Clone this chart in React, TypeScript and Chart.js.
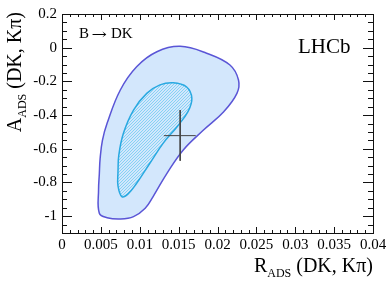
import React, { useEffect, useRef } from 'react';
import { Chart, registerables } from 'chart.js';

Chart.register(...registerables);

// 95% (outer) contour: R_ADS and A_ADS values (closed loop)
const outerR = [0.0048, 0.0049, 0.0052, 0.0058, 0.0075, 0.0096, 0.0122, 0.0152, 0.0186, 0.0216, 0.0227, 0.0225, 0.0208, 0.0182, 0.0156, 0.0135, 0.0117, 0.0107, 0.0092, 0.0075, 0.0058, 0.0048, 0.0047, 0.0048];
const outerA = [-0.750, -0.660, -0.550, -0.449, -0.251, -0.113, -0.024, 0.008, -0.033, -0.103, -0.192, -0.271, -0.380, -0.489, -0.607, -0.746, -0.885, -0.953, -1.003, -1.017, -1.009, -0.983, -0.845, -0.750];

// 68% (inner, hatched) contour (closed loop)
const innerR = [0.0072, 0.0073, 0.0079, 0.0092, 0.0109, 0.0126, 0.0143, 0.0160, 0.0167, 0.0162, 0.0148, 0.0130, 0.0113, 0.0096, 0.0085, 0.0077, 0.0072, 0.0072];
const innerA = [-0.736, -0.640, -0.508, -0.370, -0.271, -0.221, -0.208, -0.232, -0.300, -0.380, -0.469, -0.568, -0.686, -0.805, -0.868, -0.884, -0.820, -0.736];

// central value with errors
const centralR = 0.0152;
const centralA = -0.522;
const errRLow = 0.0131;
const errRHigh = 0.0172;
const errALow = -0.671;
const errAHigh = -0.370;

// axis ticks
const xTicks = [0, 0.005, 0.01, 0.015, 0.02, 0.025, 0.03, 0.035, 0.04];
const xTickLabels = ['0', '0.005', '0.01', '0.015', '0.02', '0.025', '0.03', '0.035', '0.04'];
const yTicks = [-1, -0.8, -0.6, -0.4, -0.2, 0, 0.2];
const yTickLabels = ['-1', '-0.8', '-0.6', '-0.4', '-0.2', '0', '0.2'];

const xMin = 0, xMax = 0.04, yMin = -1.1, yMax = 0.2;
const xMinorStep = 0.001, yMinorStep = 0.05;

const SERIF = '"Liberation Serif", "DejaVu Serif", serif';

function makeHatch(): CanvasPattern | string {
  const c = document.createElement('canvas');
  c.width = 3; c.height = 3;
  const g = c.getContext('2d');
  if (!g) return 'rgba(120,200,240,0.5)';
  g.strokeStyle = '#86d2f4';
  g.lineWidth = 1;
  g.beginPath();
  g.moveTo(-1, 4); g.lineTo(4, -1);
  g.moveTo(-1, 1); g.lineTo(1, -1);
  g.moveTo(2, 4); g.lineTo(4, 2);
  g.stroke();
  return g.createPattern(c, 'repeat') || 'rgba(120,200,240,0.5)';
}

function drawSubTitle(ctx: CanvasRenderingContext2D, main: string, sub: string, rest: string, mainSize: number, subSize: number, subShift: number) {
  // draws right-aligned at origin (0,0), baseline at 0
  ctx.font = `${mainSize}px ${SERIF}`;
  const wMain = ctx.measureText(main).width;
  const wRest = ctx.measureText(rest).width;
  ctx.font = `${subSize}px ${SERIF}`;
  const wSub = ctx.measureText(sub).width;
  const total = wMain + wSub + wRest;
  let x = -total;
  ctx.textAlign = 'left';
  ctx.textBaseline = 'alphabetic';
  ctx.font = `${mainSize}px ${SERIF}`;
  ctx.fillText(main, x, 0);
  x += wMain;
  ctx.font = `${subSize}px ${SERIF}`;
  ctx.fillText(sub, x, subShift);
  x += wSub;
  ctx.font = `${mainSize}px ${SERIF}`;
  ctx.fillText(rest, x, 0);
}

const decorPlugin = {
  id: 'decor',
  afterDraw(chart: any) {
    const ctx: CanvasRenderingContext2D = chart.ctx;
    const { left, right, top, bottom } = chart.chartArea;
    const xs = chart.scales.x;
    const ys = chart.scales.y;
    ctx.save();
    ctx.strokeStyle = '#111';
    ctx.lineWidth = 1;
    // frame
    ctx.strokeRect(Math.round(left) + 0.5, Math.round(top) + 0.5, Math.round(right - left), Math.round(bottom - top));
    // ticks (inward, on all four sides)
    ctx.beginPath();
    const nX = Math.round((xMax - xMin) / xMinorStep);
    for (let i = 0; i <= nX; i++) {
      const v = xMin + i * xMinorStep;
      const px = Math.round(xs.getPixelForValue(v)) + 0.5;
      const len = i % 5 === 0 ? 6 : 3;
      ctx.moveTo(px, bottom); ctx.lineTo(px, bottom - len);
      ctx.moveTo(px, top); ctx.lineTo(px, top + len);
    }
    const nY = Math.round((yMax - yMin) / yMinorStep);
    for (let i = 0; i <= nY; i++) {
      const v = yMin + i * yMinorStep;
      const py = Math.round(ys.getPixelForValue(v)) + 0.5;
      const major = Math.abs(Math.round(v / 0.2) * 0.2 - v) < 1e-6;
      const len = major ? 10 : 5;
      ctx.moveTo(left, py); ctx.lineTo(left + len, py);
      ctx.moveTo(right, py); ctx.lineTo(right - len, py);
    }
    ctx.stroke();

    ctx.fillStyle = '#000';
    // in-plot labels
    ctx.textBaseline = 'alphabetic';
    ctx.textAlign = 'left';
    ctx.font = `15px ${SERIF}`;
    ctx.fillText('B', 79, 38);
    ctx.fillText('DK', 111, 38);
    ctx.font = `14px "DejaVu Serif", serif`;
    const aw = ctx.measureText('\u2192').width;
    ctx.save();
    ctx.translate(91.5, 39);
    ctx.scale(15.5 / aw, 1);
    ctx.fillText('\u2192', 0, 0);
    ctx.restore();
    ctx.font = `21px ${SERIF}`;
    ctx.fillText('LHCb', 298, 53);

    // x axis title
    ctx.save();
    ctx.translate(373, 272);
    drawSubTitle(ctx, 'R', 'ADS', ' (DK, K\u03c0)', 20, 12, 5);
    ctx.restore();

    // y axis title (rotated, ends at the top)
    ctx.save();
    ctx.translate(21, 12);
    ctx.rotate(-Math.PI / 2);
    drawSubTitle(ctx, 'A', 'ADS', ' (DK, K\u03c0)', 20, 12, 5);
    ctx.restore();

    ctx.restore();
  },
};

export default function App() {
  const ref = useRef<HTMLCanvasElement | null>(null);

  useEffect(() => {
    if (!ref.current) return;
    const hatch = makeHatch();
    const chart = new Chart(ref.current, {
      type: 'scatter',
      data: {
        datasets: [
          {
            label: 'errA',
            data: [{ x: centralR, y: errAHigh }, { x: centralR, y: errALow }],
            showLine: true,
            borderColor: '#444',
            borderWidth: 1,
            pointRadius: 0,
            fill: false,
          },
          {
            label: 'errR',
            data: [{ x: errRLow, y: centralA }, { x: errRHigh, y: centralA }],
            showLine: true,
            borderColor: '#444',
            borderWidth: 1,
            pointRadius: 0,
            fill: false,
          },
          {
            label: 'inner',
            data: innerR.map((r, i) => ({ x: r, y: innerA[i] })),
            showLine: true,
            borderColor: '#29a9e1',
            borderWidth: 1.5,
            backgroundColor: hatch as any,
            pointRadius: 0,
            tension: 0.4,
            fill: 'shape',
          },
          {
            label: 'outer',
            data: outerR.map((r, i) => ({ x: r, y: outerA[i] })),
            showLine: true,
            borderColor: '#5a55d6',
            borderWidth: 1.5,
            backgroundColor: '#d3e7fc',
            pointRadius: 0,
            tension: 0.4,
            fill: 'shape',
          },
        ],
      },
      options: {
        animation: false,
        responsive: false,
        layout: { padding: { left: 0, right: 19, top: 14, bottom: 0 } },
        plugins: {
          legend: { display: false },
          tooltip: { enabled: false },
          title: { display: false },
        },
        scales: {
          x: {
            type: 'linear',
            min: xMin,
            max: xMax,
            grid: { display: false, drawTicks: false },
            border: { display: false },
            afterBuildTicks: (scale: any) => {
              scale.ticks = xTicks.map((v) => ({ value: v }));
            },
            afterFit: (scale: any) => {
              scale.height = 49;
            },
            ticks: {
              autoSkip: false,
              maxRotation: 0,
              minRotation: 0,
              padding: 3,
              color: '#000',
              font: { family: SERIF, size: 15 },
              callback: (_v: any, i: number) => xTickLabels[i],
            },
          },
          y: {
            type: 'linear',
            min: yMin,
            max: yMax,
            grid: { display: false, drawTicks: false },
            border: { display: false },
            afterBuildTicks: (scale: any) => {
              scale.ticks = yTicks.map((v) => ({ value: v }));
            },
            afterFit: (scale: any) => {
              scale.width = 62;
            },
            ticks: {
              autoSkip: false,
              padding: 5,
              color: '#000',
              font: { family: SERIF, size: 15 },
              callback: (_v: any, i: number) => yTickLabels[i],
            },
          },
        },
      } as any,
      plugins: [decorPlugin],
    });
    return () => chart.destroy();
  }, []);

  return (
    <div style={{ position: 'absolute', left: 0, top: 0, width: 392, height: 282, background: '#fff' }}>
      <canvas ref={ref} width={392} height={282} style={{ display: 'block', width: 392, height: 282 }} />
    </div>
  );
}
